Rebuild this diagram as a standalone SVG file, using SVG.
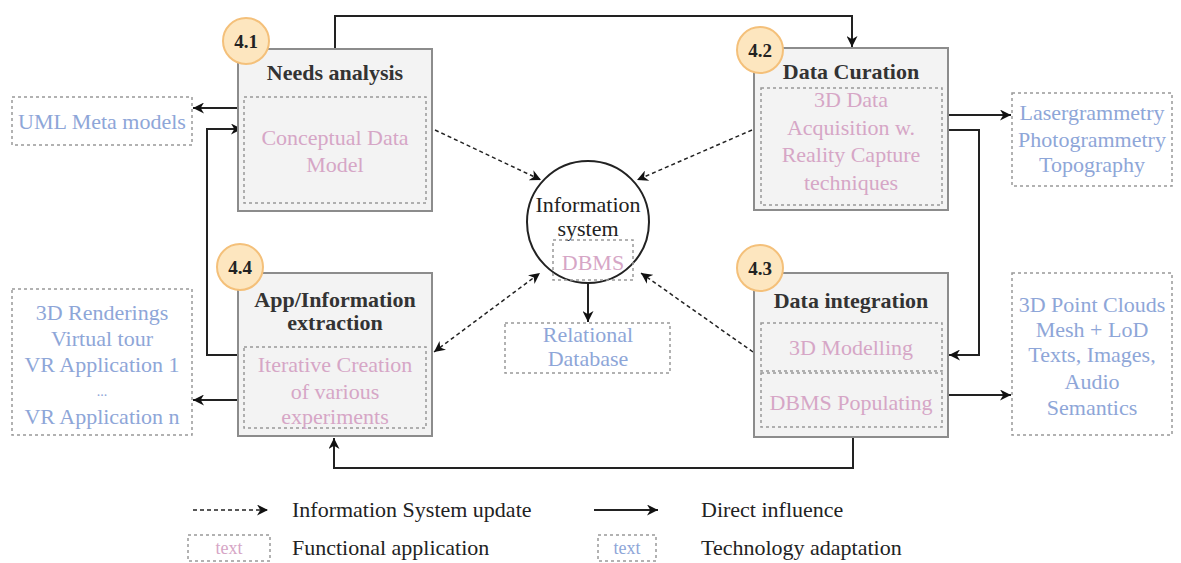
<svg xmlns="http://www.w3.org/2000/svg" width="1181" height="563" viewBox="0 0 1181 563">
<defs>
<style>
text{font-size:22px;text-anchor:middle}
.box{fill:#f3f3f3;stroke:#8c8c8c;stroke-width:2}
.inner{fill:none;stroke:#999;stroke-width:1.5;stroke-dasharray:3 3}
.tech{fill:#fff;stroke:#999;stroke-width:1.5;stroke-dasharray:3 3}
.title{font-weight:bold;fill:#333}
.pink{fill:#d6a6c6}
.blue{fill:#8ea6d8}
.badge{fill:#fde6bf;stroke:#f4c07a;stroke-width:2}
.bt{font-weight:bold;font-size:19px;fill:#222}
.solid{fill:none;stroke:#222;stroke-width:2}
.dash{fill:none;stroke:#222;stroke-width:1.5;stroke-dasharray:4 3}
.leg{text-anchor:start;fill:#222}
</style>
<marker id="ah" viewBox="0 0 10 10" refX="10" refY="5" markerWidth="12" markerHeight="11" markerUnits="userSpaceOnUse" orient="auto-start-reverse">
<path d="M0,0 L10,5 L0,10 L3,5 z" fill="#111"/>
</marker>
</defs>

<g id="connectors">
<path class="solid" d="M335,49 V16 H852 V47" marker-end="url(#ah)"/>
<path class="solid" d="M244,108 H193" marker-end="url(#ah)"/>
<path class="solid" d="M244,355 H207 V129 H242" marker-end="url(#ah)"/>
<path class="solid" d="M244,400 H193" marker-end="url(#ah)"/>
<path class="solid" d="M942,115 H1011" marker-end="url(#ah)"/>
<path class="solid" d="M942,130 H979 V355 H949" marker-end="url(#ah)"/>
<path class="solid" d="M942,395 H1011" marker-end="url(#ah)"/>
<path class="solid" d="M853,437 V468 H334 V438" marker-end="url(#ah)"/>
<path class="solid" d="M588,280 V322" marker-end="url(#ah)"/>
<path class="dash" d="M435,130 L541,180" marker-end="url(#ah)"/>
<path class="dash" d="M752,130 L637,180" marker-end="url(#ah)"/>
<path class="dash" d="M753,352 L641,273" marker-end="url(#ah)"/>
<path class="dash" d="M434,352 L540,273" marker-start="url(#ah)" marker-end="url(#ah)"/>
</g>

<g font-family="Liberation Serif, Times New Roman, serif">
<g id="n41">
<rect class="box" x="238" y="49" width="194" height="162"/>
<text class="title" x="335" y="80">Needs analysis</text>
<rect class="inner" x="244" y="97" width="182" height="106"/>
<text class="pink" x="335" y="145">Conceptual Data</text>
<text class="pink" x="335" y="172">Model</text>
<circle class="badge" cx="246" cy="41" r="23"/>
<text class="bt" x="246" y="48">4.1</text>
</g>

<g id="n42">
<rect class="box" x="754" y="48" width="194" height="162"/>
<text class="title" x="851" y="79">Data Curation</text>
<rect class="inner" x="761" y="88" width="181" height="117"/>
<text class="pink" x="851" y="107">3D Data</text>
<text class="pink" x="851" y="135">Acquisition w.</text>
<text class="pink" x="851" y="162">Reality Capture</text>
<text class="pink" x="851" y="190">techniques</text>
<circle class="badge" cx="760" cy="50" r="23"/>
<text class="bt" x="760" y="57">4.2</text>
</g>

<g id="n43">
<rect class="box" x="754" y="273" width="194" height="164"/>
<text class="title" x="851" y="308">Data integration</text>
<rect class="inner" x="761" y="323" width="181" height="48"/>
<text class="pink" x="851" y="355">3D Modelling</text>
<rect class="inner" x="761" y="373" width="181" height="54"/>
<text class="pink" x="851" y="410">DBMS Populating</text>
<circle class="badge" cx="760" cy="268" r="23"/>
<text class="bt" x="760" y="275">4.3</text>
</g>

<g id="n44">
<rect class="box" x="238" y="273" width="194" height="163"/>
<text class="title" x="335" y="307">App/Information</text>
<text class="title" x="335" y="330">extraction</text>
<rect class="inner" x="244" y="347" width="182" height="81"/>
<text class="pink" x="335" y="372">Iterative Creation</text>
<text class="pink" x="335" y="399">of various</text>
<text class="pink" x="335" y="424">experiments</text>
<circle class="badge" cx="240" cy="267" r="23"/>
<text class="bt" x="240" y="274">4.4</text>
</g>

<g id="infosys">
<circle cx="588" cy="222" r="61" fill="#fff" stroke="#222" stroke-width="2"/>
<text x="588" y="212" fill="#222">Information</text>
<text x="588" y="236" fill="#222">system</text>
<rect class="inner" x="553" y="240" width="80" height="40" fill="#fff"/>
<text class="pink" x="593" y="270">DBMS</text>
</g>

<g id="reldb">
<rect class="tech" x="505" y="323" width="165" height="50"/>
<text class="blue" x="588" y="342">Relational</text>
<text class="blue" x="588" y="366">Database</text>
</g>

<g id="uml">
<rect class="tech" x="12" y="97" width="180" height="48"/>
<text class="blue" x="102" y="129">UML Meta models</text>
</g>

<g id="apps">
<rect class="tech" x="12" y="289" width="180" height="146"/>
<text class="blue" x="102" y="320">3D Renderings</text>
<text class="blue" x="102" y="346">Virtual tour</text>
<text class="blue" x="102" y="372">VR Application 1</text>
<text class="blue" x="102" y="396" style="font-size:14px">...</text>
<text class="blue" x="102" y="424">VR Application n</text>
</g>

<g id="acq">
<rect class="tech" x="1012" y="93" width="160" height="93"/>
<text class="blue" x="1092" y="120">Lasergrammetry</text>
<text class="blue" x="1092" y="147">Photogrammetry</text>
<text class="blue" x="1092" y="172">Topography</text>
</g>

<g id="data">
<rect class="tech" x="1012" y="273" width="160" height="162"/>
<text class="blue" x="1092" y="312">3D Point Clouds</text>
<text class="blue" x="1092" y="337">Mesh + LoD</text>
<text class="blue" x="1092" y="362">Texts, Images,</text>
<text class="blue" x="1092" y="389">Audio</text>
<text class="blue" x="1092" y="415">Semantics</text>
</g>

<g id="legend">
<path class="dash" d="M193,510 H268" marker-end="url(#ah)"/>
<text class="leg" x="292" y="517">Information System update</text>
<path class="solid" d="M594,510 H658" marker-end="url(#ah)"/>
<text class="leg" x="701" y="517">Direct influence</text>
<rect class="inner" x="188" y="535" width="82" height="26"/>
<text class="pink" x="229" y="554" style="font-size:18px">text</text>
<text class="leg" x="292" y="555">Functional application</text>
<rect class="tech" x="598" y="535" width="58" height="26"/>
<text class="blue" x="627" y="554" style="font-size:18px">text</text>
<text class="leg" x="701" y="555">Technology adaptation</text>
</g>
</g>
</svg>
